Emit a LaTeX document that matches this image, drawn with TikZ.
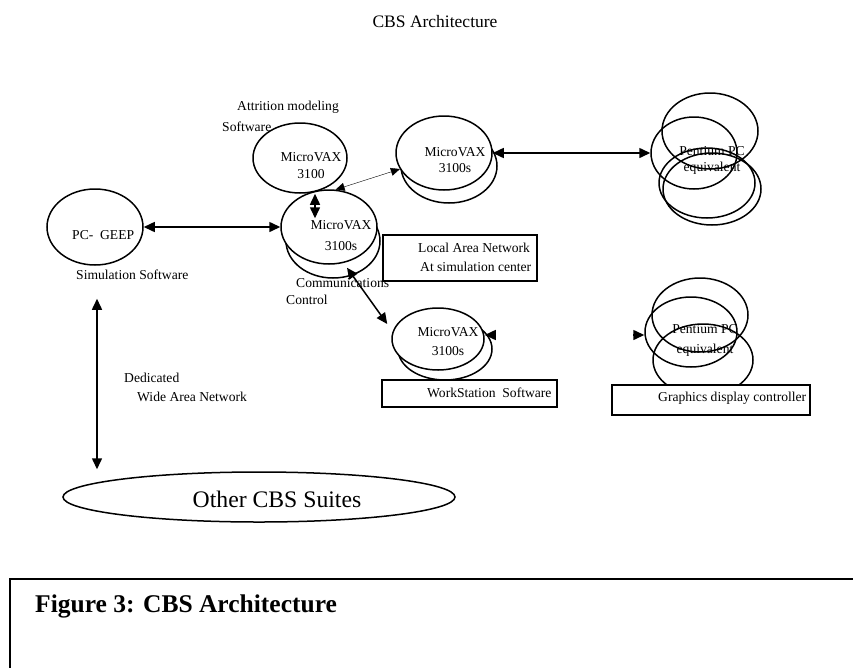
\documentclass[tikz,border=0pt]{standalone}
\usepackage{fontspec}
\setmainfont{Liberation Serif}
\usepackage{tikz}
\usetikzlibrary{calc}
\usetikzlibrary{shapes}
\usetikzlibrary{arrows.meta}

\begin{document}
\begin{tikzpicture}[x=1pt,y=-1pt,
  font=\fontsize{13.6}{16}\selectfont,
  el/.style 2 args={ellipse, draw, line width=1.5pt, inner sep=0pt, minimum width=#1, minimum height=#2},
  front/.style={fill=white},
  frame/.style={draw, line width=1.5pt, fill=white, inner sep=0pt},
  txt/.style={inner sep=0pt, anchor=west},
  two/.style={inner sep=0pt, align=center},
  tip/.style={line width=1.5pt, -{Triangle[length=11pt,width=10pt]}},
  dbl/.style={line width=1.5pt, {Triangle[length=11pt,width=10pt]}-{Triangle[length=11pt,width=10pt]}}]
				\useasboundingbox (0,0) rectangle (853,667);
				\clip (0,0) rectangle (853,667);

				\node (title) at (435,22) {\fontsize{17.5}{20}\selectfont CBS Architecture};

				% simulation host
				\node[el={96pt}{76pt}] (geep) at (95,227) {};
				\node[txt] (geeptxt) at (72,235) {PC-\ \ GEEP};
				\node[txt] (simtxt) at (76,275) {Simulation Software};

				% central MicroVAX
				\node[el={94pt}{74pt}] (vaxcb) at (333,241) {};
				\node[el={96pt}{74pt}, front] (vaxc) at (329,227) {};
				\node[two, font=\fontsize{13.6}{21}\selectfont] (vaxctxt) at (341,236) {MicroVAX\\3100s};
				\node[txt] (comtxt) at (296,283) {Communications};
				\node[txt] (ctltxt) at (286,300) {Control};

				% attrition MicroVAX
				\node[el={94pt}{70pt}, front] (vaxu) at (300,158) {};
				\node[two, font=\fontsize{13.6}{17}\selectfont] (vaxutxt) at (311,166) {MicroVAX\\3100};
				\node[txt] (atttxt) at (237,107) {Attrition modeling};
				\node[txt] (swtxt) at (222,127) {Software};

				% upper right MicroVAX
				\node[el={96pt}{74pt}] (vaxrb) at (449,166) {};
				\node[el={96pt}{74pt}, front] (vaxr) at (444,153) {};
				\node[two] (vaxrtxt) at (455,160) {MicroVAX\\3100s};

				% workstation MicroVAX
				\node[el={94pt}{62pt}] (vaxwb) at (445,349) {};
				\node[el={92pt}{62pt}, front] (vaxw) at (438,339) {};
				\node[two, font=\fontsize{13.6}{19}\selectfont] (vaxwtxt) at (448,342) {MicroVAX\\3100s};

				% Pentium stacks
				\node[el={96pt}{76pt}] (penta1) at (710,131) {};
				\node[el={96pt}{70pt}] (penta2) at (707,183) {};
				\node[el={98pt}{72pt}] (penta3) at (712,189) {};
				\node[el={86pt}{72pt}] (penta) at (694,153) {};
				\node[two] (pentatxt) at (712,160) {Pentium PC\\equivalent};

				\node[el={96pt}{74pt}] (pentb1) at (700,315) {};
				\node[el={100pt}{72pt}] (pentb2) at (703,360) {};
				\node[el={92pt}{70pt}] (pentb) at (691,332) {};
				\node[two, font=\fontsize{13.6}{20}\selectfont] (pentbtxt) at (705,340) {Pentium PC\\equivalent};

				% boxes
				\node[frame, minimum width=154pt, minimum height=46pt] (lan) at (460,258) {};
				\node[txt] (lantxt) at (418,248) {Local Area Network};
				\node[txt] (lantxt2) at (420,267) {At simulation center};
				\node[frame, minimum width=175pt, minimum height=27pt] (wsbox) at (469.5,393.5) {};
				\node[txt] (wstxt) at (427,393) {WorkStation\ \ Software};
				\node[frame, minimum width=198pt, minimum height=30pt] (gfx) at (711,400) {};
				\node[txt] (gfxtxt) at (658,398) {Graphics display controller};

				% wide area network
				\node[el={392pt}{50pt}] (suites) at (259,497) {};
				\node (suitestxt) at (277,499) {\fontsize{23.7}{26}\selectfont Other CBS Suites};
				\node[txt] (dedtxt) at (124,378) {Dedicated};
				\node[txt] (wantxt) at (137,397) {Wide Area Network};

				% connectors
				\draw[dbl] (geep.east) -- (vaxc.west);
				\draw[dbl] ([xshift=15pt]vaxu.south) -- ([xshift=-14pt,yshift=-29pt]vaxc.north);
				\draw[thin, {Triangle[length=9pt,width=8pt]}-{Triangle[length=9pt,width=8pt]}] (vaxc.80) -- (vaxr.200);
				\draw[dbl] (vaxr.east) -- (penta.west);
				\draw[dbl] ([xshift=18pt,yshift=-3pt]vaxc.south) -- ([xshift=-4pt,yshift=15pt]vaxw.west);
				\draw[tip] ([xshift=11pt,yshift=4pt]vaxw.east) -- ([yshift=4pt]vaxw.east);
				\draw[tip] ([xshift=-11pt,yshift=-3pt]pentb.west) -- ([yshift=-3pt]pentb.west);
				\draw[dbl] ([xshift=2pt,yshift=-33pt]geep.south) -- ([xshift=2pt,yshift=2pt]geep.south |- suites.north);

				% caption frame
				\draw[line width=1.5pt] (10,700) -- (10,579) -- (900,579);
				\node[txt] (caption) at (35,606) {\fontsize{25.5}{30}\selectfont\bfseries Figure 3: CBS Architecture};
\end{tikzpicture}
\end{document}
